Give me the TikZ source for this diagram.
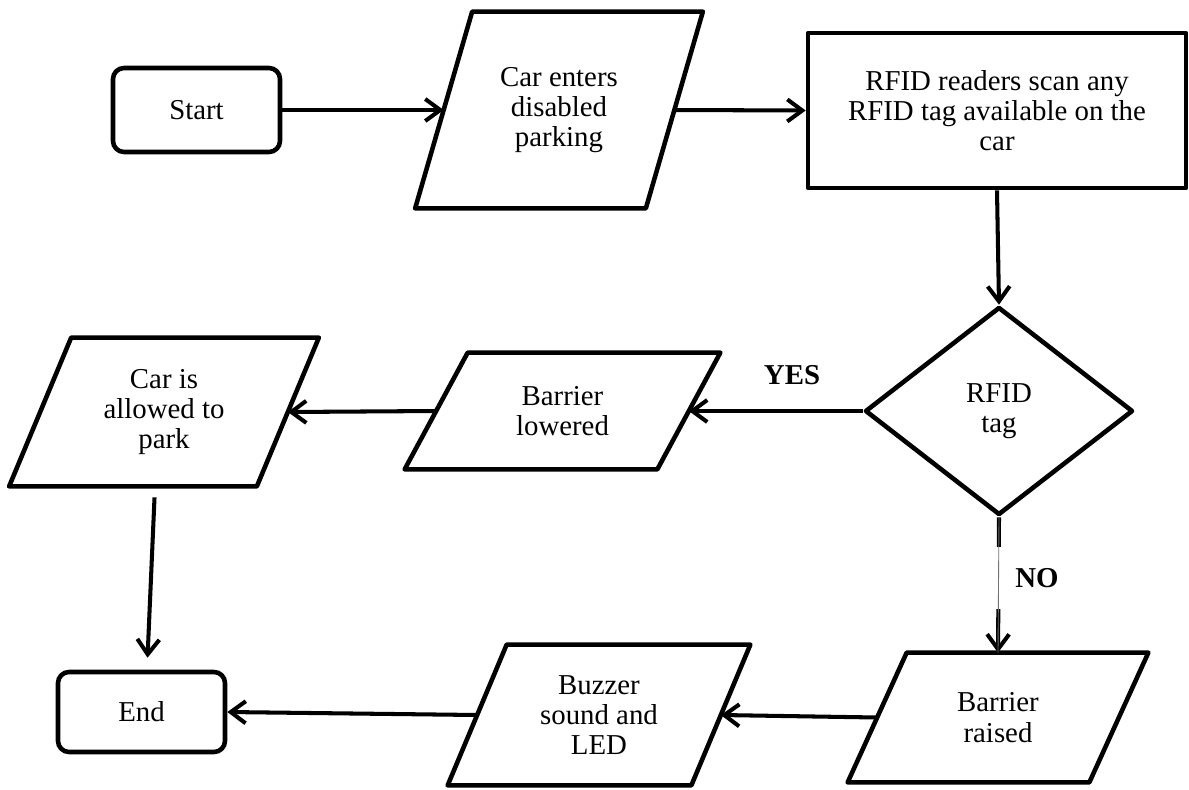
\documentclass[tikz,border=0pt]{standalone}
\usepackage{fontspec}
\setmainfont{Liberation Serif}
\usetikzlibrary{arrows.meta, shapes.geometric}

\begin{document}
\begin{tikzpicture}[
    font=\fontsize{16.4}{17.2}\selectfont,
    base/.style={draw, line width=2.6pt, line join=round, align=center},
    term/.style={base, rounded corners=0.22cm, minimum width=3.34cm, minimum height=1.68cm},
    proc/.style={base, minimum width=7.56cm, minimum height=3.1cm},
    io/.style={align=center},   % outline drawn below as a slanted box
    dec/.style={base, diamond, minimum width=5.36cm, minimum height=4.16cm},
    arr/.style={-{Straight Barb[length=3mm, width=4.4mm]}, line width=2.3pt},
    lbl/.style={font=\fontsize{16.4}{17.2}\selectfont\bfseries}
]
    \useasboundingbox (0,0) rectangle (23.78,-15.78);

    % top row, left to right
    \node[term] (start) at (3.93, -2.20) {Start};
    \node[io, minimum width=4.6cm, minimum height=3.92cm] (enter) at (11.18, -2.20) {Car enters\\ disabled\\ parking};
    \node[proc] (scan) at (19.94, -2.21) {RFID readers scan any\\ RFID tag available on the\\ car};

    % middle row, right to left
    \node[dec] (tag) at (19.98, -8.22) {RFID\\ tag};
    \node[io, minimum width=5.04cm, minimum height=2.32cm] (lowered) at (11.25, -8.22) {Barrier\\ lowered};
    \node[io, minimum width=4.94cm, minimum height=2.96cm] (allowed) at (3.28, -8.24) {Car is\\ allowed to\\ park};

    % bottom row, right to left
    \node[io, minimum width=4.82cm, minimum height=2.58cm] (raised) at (19.96, -14.35) {Barrier\\ raised};
    \node[io, minimum width=4.86cm, minimum height=2.8cm] (buzz) at (11.98, -14.30) {Buzzer\\ sound and\\ LED};
    \node[term, minimum height=1.6cm] (finish) at (2.83, -14.24) {End};

    % slanted outlines: node name / half of the slant
    \foreach \n/\h in {enter/0.57, lowered/0.63, allowed/0.62, raised/0.59, buzz/0.59}
        \draw[base] ([xshift=-\h cm]\n.south west) -- ([xshift=-\h cm]\n.south east)
            -- ([xshift=\h cm]\n.north east) -- ([xshift=\h cm]\n.north west) -- cycle;

    % flow
    \draw[arr] (start.east) -- (enter.west);
    \draw[arr] (enter.east) -- (scan.west);
    \draw[arr] (scan.south) -- (tag.north);
    \draw[arr] (tag.west) -- (lowered.east);
    \draw[arr] (lowered.west) -- (allowed.east);
    \draw[arr, shorten <=0.22cm, shorten >=0.24cm] ([xshift=-0.18cm]allowed.south) -- ([xshift=0.11cm]finish.north);
    \draw[arr] (tag.south) -- (raised.north);
    \draw[arr] (raised.west) -- (buzz.east);
    \draw[arr] (buzz.west) -- (finish.east);

    % branch labels
    \node[lbl] (yes) at (15.84, -7.50) {YES};
    \node[lbl, fill=white, minimum width=1.64cm, minimum height=1.24cm] (no) at (20.74, -11.56) {NO};
    \draw[line width=0.5pt, black!55] (tag.south) -- (raised.north);
\end{tikzpicture}
\end{document}
